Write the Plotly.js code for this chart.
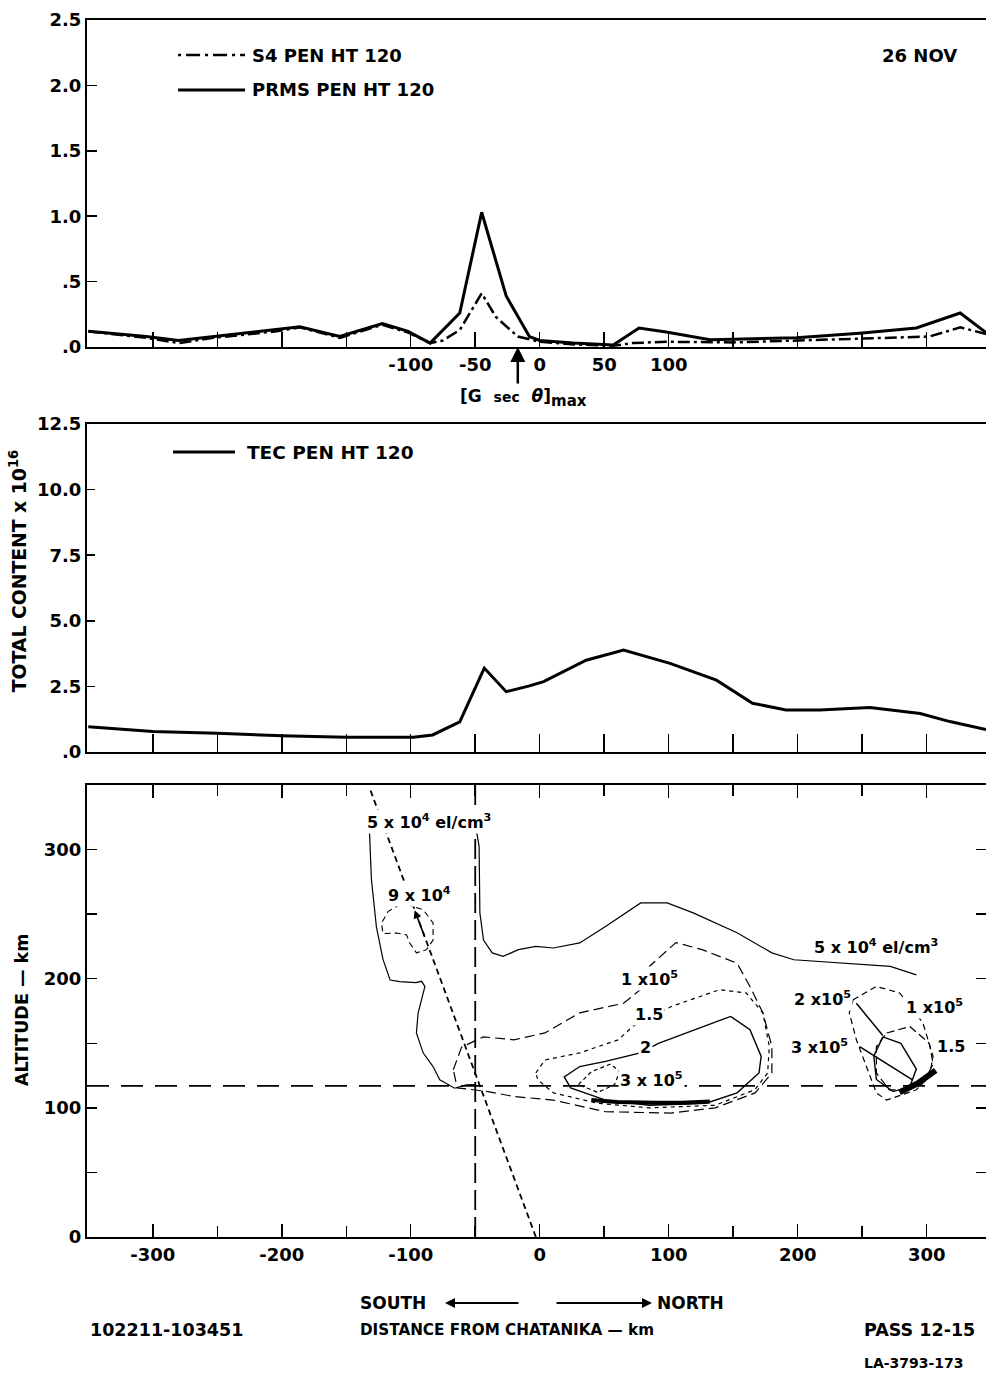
<!DOCTYPE html>
<html>
<head>
<meta charset="utf-8">
<script src="https://cdn.plot.ly/plotly-3.0.1.min.js"></script>
<style>html,body{margin:0;padding:0;background:#fff;}#chart{width:986px;height:1374px;}</style>
</head>
<body>
<div id="chart"></div>
<script>
// ---------- Panel 1: scintillation indices (distance from Chatanika, km) ----------
const prmsX = [-350, -305, -280, -253, -204, -186, -155, -122, -102, -85, -62, -45, -26, -8, 0, 26, 57, 77, 98, 132, 150, 199, 248, 292, 326, 346];
const prmsY = [0.12, 0.08, 0.05, 0.08, 0.13, 0.155, 0.08, 0.18, 0.12, 0.03, 0.26, 1.03, 0.39, 0.08, 0.05, 0.03, 0.015, 0.145, 0.115, 0.055, 0.06, 0.07, 0.105, 0.145, 0.26, 0.11];
const s4X = [-350, -305, -280, -253, -204, -186, -155, -122, -102, -85, -75, -62, -45, -34, -17, 0, 26, 57, 72, 98, 150, 199, 256, 302, 326, 346];
const s4Y = [0.12, 0.07, 0.03, 0.07, 0.12, 0.15, 0.07, 0.17, 0.11, 0.03, 0.05, 0.13, 0.41, 0.23, 0.08, 0.04, 0.02, 0.01, 0.03, 0.04, 0.035, 0.05, 0.07, 0.08, 0.15, 0.10];
const gSecThetaMax = [-17];

// ---------- Panel 2: total electron content ----------
const tecX = [-350, -300, -250, -200, -150, -98, -83, -62, -43, -26, -8, 3, 36, 65, 101, 137, 165, 191, 217, 256, 295, 318, 346];
const tecY = [0.96, 0.78, 0.72, 0.62, 0.56, 0.56, 0.65, 1.15, 3.2, 2.3, 2.52, 2.68, 3.5, 3.89, 3.38, 2.74, 1.86, 1.6, 1.6, 1.7, 1.47, 1.16, 0.86];

// ---------- Panel 3: iso-density contours (km, altitude km) ----------
const c5e4LeftX = [-132, -130.5, -126.6, -121.5, -116, -108.5, -96, -91.7, -89, -94.3, -95.6, -90.4, -82.7, -77.5, -66, -57, -50];
const c5e4LeftY = [314, 277, 240, 215, 199, 197.7, 197, 198, 194, 173.4, 158, 142.6, 132, 121.7, 115.2, 117.8, 118];
const c5e4RightX = [-48.8, -47, -46.4, -43.6, -36.8, -28.4, -16.5, -3, 10.6, 31, 51, 78.3, 98.8, 119, 153, 180, 197, 237.8, 271.8, 292];
const c5e4RightY = [313, 302.6, 251, 230, 220, 217.3, 222.5, 225, 223.8, 227.7, 240.5, 258.7, 258.7, 251, 235.6, 220, 214.7, 212, 209.5, 203];
const c9e4X = [-103.3, -90.4, -82.7, -82.7, -87.8, -95.6, -100.8, -103.3, -111, -121.5, -122.7, -117.6, -108.5, -103.3];
const c9e4Y = [257.4, 253.5, 243.2, 230, 222.5, 220, 227.7, 234, 235.4, 234.9, 243, 252, 257.4, 257.4];
const c1e5X = [-67, -60.6, -43.6, -20, 4, 31, 65, 78, 85, 105.6, 126, 153, 163, 173, 180, 180, 167, 136, 102, 51, 10.6, -20, -40, -64, -67];
const c1e5Y = [129.5, 147, 155, 152.7, 158, 173.6, 181, 191.5, 209.5, 228, 222.5, 212, 194, 173.6, 147.5, 127, 111.6, 100, 96, 97, 106, 108.8, 112.6, 115.5, 129.5];
const c15e5X = [-3, 4, 31, 61, 72, 102, 139.5, 160, 173, 178, 176.7, 166.7, 136, 85, 44.6, 10.6, -1.5, -3];
const c15e5Y = [127, 137, 142.6, 152.7, 163, 178.5, 191.5, 189, 173.6, 147.5, 127, 114, 102, 100, 103.6, 111.6, 121.7, 127];
const c2e5X = [92, 119, 148, 163, 171.7, 170, 153, 129, 85, 51, 24, 19, 31, 51, 78, 92];
const c2e5Y = [150, 160, 170.8, 160.5, 139.8, 127, 111.6, 103.6, 102, 106, 115.5, 124, 132, 136, 142.6, 150];
const c3e5X = [30, 40, 55, 62, 58, 45, 30];
const c3e5Y = [118, 128, 134, 128, 118, 112, 118];
const c3e5BandX = [40, 60, 90, 110, 132];
const c3e5BandY = [106, 104.5, 104, 104, 105];
const c1e5NX = [243, 261, 279, 297, 305, 302, 292, 269, 261, 253, 245.5, 240, 243];
const c1e5NY = [183.7, 194, 189, 166, 139.8, 124, 114, 106, 111.6, 132, 152.7, 173.6, 183.7];
const c15e5NX = [269, 287, 302, 305, 300, 284, 271, 261, 261, 269];
const c15e5NY = [158, 163, 150, 134, 124, 114, 114, 127, 147.5, 158];
const c2e5NX = [266, 259, 261, 274, 287, 292, 280, 266];
const c2e5NY = [155, 140, 122, 112.6, 116.5, 130, 150, 155];
const lead1X = [245.5, 266], lead1Y = [181, 156];
const lead2X = [248, 289], lead2Y = [147.5, 121.7];
const blobX = [279, 293, 307], blobY = [112, 119, 129];
const penAltX = [-351, 346], penAltY = [117, 117];
const penDistX = [-50, -50], penDistY = [0, 350];
const rayX = [-3, -132], rayY = [0, 348];

const labelText = ['5 x 10<sup>4</sup> el/cm<sup>3</sup>', '9 x 10<sup>4</sup>', '5 x 10<sup>4</sup> el/cm<sup>3</sup>', '1 x10<sup>5</sup>', '1.5', '2', '3 x 10<sup>5</sup>', '2 x10<sup>5</sup>', '1 x10<sup>5</sup>', '3 x10<sup>5</sup>', '1.5'];
const labelX = [-86, -93, 261, 85, 85, 82, 87, 219, 306, 217, 319];
const labelY = [322, 265, 225, 200, 172, 146.5, 122, 185, 178.5, 147.5, 147.5];

// ---------- ticks ----------
const x1Ticks = [-100, -50, 0, 50, 100];
const x1Text = ['-100', '-50', '0', '50', '100'];
const x1Minor = [-300, -250, -200, -150, 150, 200, 250, 300];
const x2Minor = [-300, -250, -200, -150, -100, -50, 0, 50, 100, 150, 200, 250, 300];
const x3Ticks = [-300, -200, -100, 0, 100, 200, 300];
const x3Text = ['-300', '-200', '-100', '0', '100', '200', '300'];
const x3Minor = [-250, -150, -50, 50, 150, 250];
const y1Ticks = [0, 0.5, 1.0, 1.5, 2.0, 2.5];
const y1Text = ['.0', '.5', '1.0', '1.5', '2.0', '2.5'];
const y2Ticks = [0, 2.5, 5, 7.5, 10, 12.5];
const y2Text = ['.0', '2.5', '5.0', '7.5', '10.0', '12.5'];
const y3Ticks = [0, 100, 200, 300];
const y3Text = ['0', '100', '200', '300'];
const y3Minor = [50, 150, 250];

const FONT = 'DejaVu Sans';
const K = '#000';

function line(x, y, xa, ya, width, dash) {
  return {x: x, y: y, xaxis: xa, yaxis: ya, type: 'scatter', mode: 'lines',
    line: {color: K, width: width, dash: dash || 'solid'}, hoverinfo: 'skip', showlegend: false};
}

const traces = [
  line(prmsX, prmsY, 'x', 'y', 3),
  line(s4X, s4Y, 'x', 'y', 2.5, '12px,4px,3px,4px'),
  line(tecX, tecY, 'x2', 'y2', 3),
  line(penAltX, penAltY, 'x3', 'y3', 1.8, '22px,12px'),
  line(penDistX, penDistY, 'x3', 'y3', 1.8, '20px,7px'),
  line(rayX, rayY, 'x3', 'y3', 1.8, '6px,4px'),
  line(c5e4LeftX, c5e4LeftY, 'x3', 'y3', 1.2),
  line(c5e4RightX, c5e4RightY, 'x3', 'y3', 1.2),
  line(c9e4X, c9e4Y, 'x3', 'y3', 1.1, '6px,4px'),
  line(c1e5X, c1e5Y, 'x3', 'y3', 1.2, '10px,5px'),
  line(c15e5X, c15e5Y, 'x3', 'y3', 1.2, '4px,4px'),
  line(c2e5X, c2e5Y, 'x3', 'y3', 1.4),
  line(c3e5X, c3e5Y, 'x3', 'y3', 1.2, '4px,3px'),
  line(c3e5BandX, c3e5BandY, 'x3', 'y3', 4),
  line(c1e5NX, c1e5NY, 'x3', 'y3', 1.2, '6px,4px'),
  line(c15e5NX, c15e5NY, 'x3', 'y3', 1.2, '8px,4px'),
  line(c2e5NX, c2e5NY, 'x3', 'y3', 1.4),
  line(lead1X, lead1Y, 'x3', 'y3', 1.5),
  line(lead2X, lead2Y, 'x3', 'y3', 1.5),
  line(blobX, blobY, 'x3', 'y3', 6)
];

const tf = {family: FONT, size: 18, color: K, weight: 'bold'};
const common = {showgrid: false, zeroline: false, showline: true, linecolor: K, linewidth: 2,
  ticks: 'inside', tickcolor: K, tickwidth: 1.5, tickfont: tf, tickmode: 'array'};
function minor(vals, len) {
  return {tickmode: 'array', tickvals: vals, ticks: 'inside', ticklen: len, tickwidth: 1.5, tickcolor: K, showgrid: false};
}

const layout = {
  width: 986, height: 1374,
  margin: {l: 87, r: 0, t: 20, b: 137, pad: 0},
  paper_bgcolor: '#fff', plot_bgcolor: '#fff',
  font: tf, showlegend: false,
  xaxis: Object.assign({}, common, {domain: [0, 1], range: [-351, 346], anchor: 'y', mirror: true, ticklen: 15,
    tickvals: x1Ticks, ticktext: x1Text, minor: minor(x1Minor, 15)}),
  yaxis: Object.assign({}, common, {domain: [0.7313, 1], range: [0, 2.5], anchor: 'x', ticklen: 10, tickvals: y1Ticks, ticktext: y1Text}),
  xaxis2: Object.assign({}, common, {domain: [0, 1], range: [-351, 346], anchor: 'y2', mirror: true, ticklen: 18,
    tickvals: [], showticklabels: false, minor: minor(x2Minor, 18)}),
  yaxis2: Object.assign({}, common, {domain: [0.3985, 0.668], range: [0, 12.5], anchor: 'x2', ticklen: 8, tickvals: y2Ticks, ticktext: y2Text}),
  xaxis3: Object.assign({}, common, {domain: [0, 1], range: [-351, 346], anchor: 'y3', mirror: 'ticks', ticklen: 13,
    tickvals: x3Ticks, ticktext: x3Text, minor: minor(x3Minor, 11)}),
  yaxis3: Object.assign({}, common, {domain: [0, 0.3714], range: [0, 350], anchor: 'x3', mirror: 'ticks', ticklen: 10,
    tickvals: y3Ticks, ticktext: y3Text, minor: minor(y3Minor, 10)}),
  shapes: [
    {type: 'line', xref: 'paper', yref: 'paper', x0: 0.1013, x1: 0.1758, y0: 0.9712, y1: 0.9712, line: {color: K, width: 2.5, dash: '3px,5px,14px,5px'}},
    {type: 'line', xref: 'paper', yref: 'paper', x0: 0.1013, x1: 0.1758, y0: 0.9425, y1: 0.9425, line: {color: K, width: 3}},
    {type: 'line', xref: 'paper', yref: 'paper', x0: 0.0957, x1: 0.1646, y0: 0.645, y1: 0.645, line: {color: K, width: 3}}
  ],
  annotations: []
};

const A = layout.annotations;
function pText(text, x, y, xanchor, size, extra) {
  A.push(Object.assign({text: text, x: x, y: y, xref: 'paper', yref: 'paper', xanchor: xanchor, yanchor: 'middle',
    showarrow: false, font: {family: FONT, size: size || 18, color: K, weight: 'bold'}}, extra || {}));
}
pText('S4 PEN HT 120', 0.1813, 0.9712, 'left');
pText('PRMS PEN HT 120', 0.1813, 0.9425, 'left');
pText('26 NOV', 0.9255, 0.9712, 'center');
pText('[G&nbsp;&nbsp;<span style="font-size:14px">sec</span>&nbsp;&nbsp;<i>θ</i>]<sub><span style="font-size:15px">max</span></sub>', 0.4127, 0.689, 'left', 17);
pText('TEC PEN HT 120', 0.1757, 0.645, 'left', 18.5);
pText('TOTAL CONTENT x 10<sup>16</sup>', -0.0768, 0.547, 'center', 18.8, {textangle: -90});
pText('ALTITUDE — km', -0.0723, 0.1865, 'center', 17.5, {textangle: -90});
pText('SOUTH', 0.3014, -0.0542, 'left', 17);
pText('NORTH', 0.6318, -0.0542, 'left', 17);
pText('102211-103451', 0.0011, -0.0764, 'left', 17.5);
pText('DISTANCE FROM CHATANIKA — km', 0.3014, -0.0764, 'left', 15.2);
pText('PASS 12-15', 0.862, -0.0764, 'left', 17.5);
pText('LA-3793-173', 0.862, -0.1035, 'left', 14);

// arrows
A.push({x: gSecThetaMax[0], y: 0, xref: 'x', yref: 'y', ax: 0, ay: 38, text: '', showarrow: true,
  arrowhead: 2, arrowsize: 1.2, arrowwidth: 2.5, arrowcolor: K});
A.push({x: 0.3982, y: -0.0542, xref: 'paper', yref: 'paper', ax: 75, ay: 0, text: '', showarrow: true,
  arrowhead: 2, arrowsize: 1, arrowwidth: 2, arrowcolor: K});
A.push({x: 0.6285, y: -0.0542, xref: 'paper', yref: 'paper', ax: -97, ay: 0, text: '', showarrow: true,
  arrowhead: 2, arrowsize: 1, arrowwidth: 2, arrowcolor: K});
// arrow on the ray path
A.push({x: -97, y: 253, xref: 'x3', yref: 'y3', axref: 'x3', ayref: 'y3', ax: -89, ay: 232, text: '', showarrow: true,
  arrowhead: 2, arrowsize: 1, arrowwidth: 1.6, arrowcolor: K});

// contour labels
for (let i = 0; i < labelText.length; i++) {
  A.push({text: labelText[i], x: labelX[i], y: labelY[i], xref: 'x3', yref: 'y3', xanchor: 'center', yanchor: 'middle',
    showarrow: false, bgcolor: '#fff', borderpad: 1, font: {family: FONT, size: 16, color: K, weight: 'bold'}});
}

Plotly.newPlot('chart', traces, layout, {staticPlot: true, displayModeBar: false});
</script>
</body>
</html>
